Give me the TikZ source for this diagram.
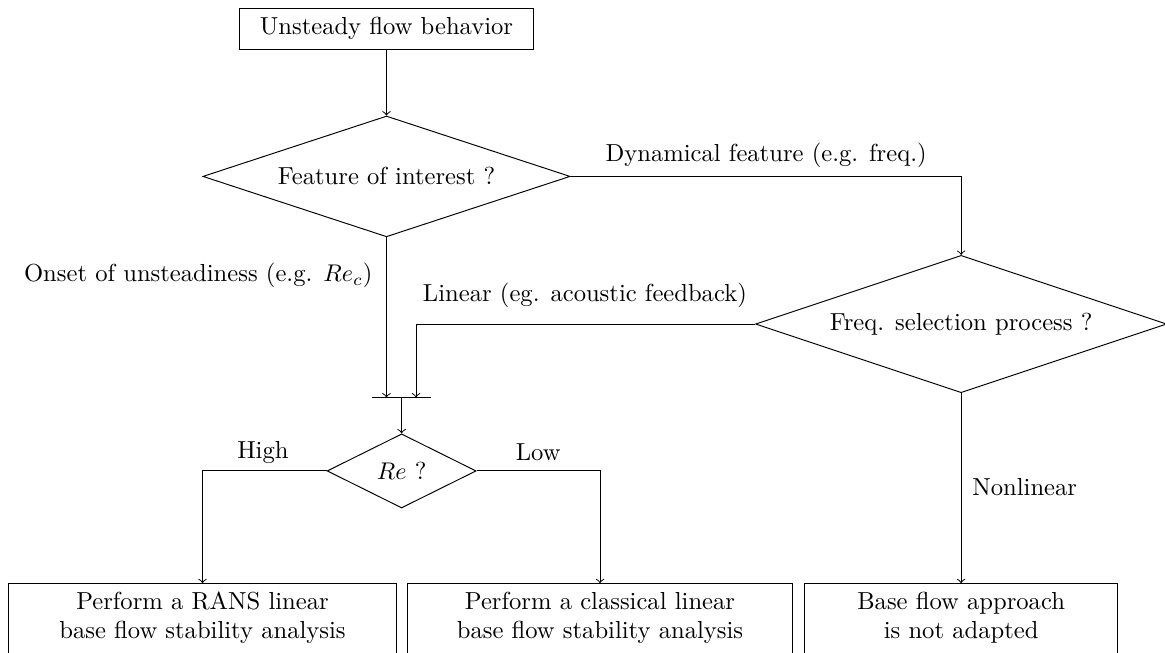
\documentclass[tikz,border=0pt]{standalone}
\usetikzlibrary{shapes.geometric}
\begin{document}
\begin{tikzpicture}
[font=\fontsize{10.2}{12.2}\selectfont,
 decision/.style={diamond, draw, inner sep=1pt},
 block/.style={rectangle, draw, align=center}]

\useasboundingbox (0,0) rectangle (16.97,9.50);

\node [block, minimum width=4.27cm, minimum height=0.6cm] (unsteady) at (5.63,9.08) {Unsteady flow behavior};
\node [decision, aspect=3, minimum width=5.35cm, minimum height=1.76cm] (feature) at (5.63,6.93) {Feature of interest ?};
\node [decision, aspect=3, minimum width=5.99cm, minimum height=2cm] (freq) at (14,4.78) {Freq. selection process ?};
\node [decision, aspect=2, minimum width=2.17cm, minimum height=1.08cm] (re) at (5.85,2.64) {$Re$ ?};

% results
\node [block, anchor=north, minimum width=5.64cm, text depth=17pt] (rans) at (2.95,1.005) {Perform a RANS linear\\base flow stability analysis};
\node [block, anchor=north, minimum width=5.62cm, text depth=17pt] (classic) at (8.74,1.005) {Perform a classical linear\\base flow stability analysis};
\node [block, anchor=north, minimum width=4.56cm, text depth=17pt] (notadapted) at (14,1.005) {Base flow approach\\is not adapted};

% junction
\coordinate (barl) at (5.42,3.71);
\coordinate (barr) at (6.28,3.71);
\coordinate (jl) at (5.63,3.71);
\coordinate (jm) at (5.85,3.71);
\coordinate (jr) at (6.06,3.71);
\draw (barl) -- (barr);

\draw [->] (unsteady) -- (feature);
\draw [->] (feature.east) -| (freq.north);
\draw [->] (feature.south) -- (jl);
\draw [->] (freq.west) -| (jr);
\draw [->] (jm) -- (re.north);
\draw [->] (re.west) -| (rans.north);
\draw [->] (re.east) -| (classic.north);
\draw [->] (freq.south) -- (notadapted.north);

% labels
\node (dynlabel) at (11.16,7.24) {Dynamical feature (e.g. freq.)};
\node [anchor=east] (onsetlabel) at (5.55,5.49) {Onset of unsteadiness (e.g. $Re_c$)};
\node (linlabel) at (8.52,5.20) {Linear (eg. acoustic feedback)};
\node [anchor=west] (nonlinlabel) at (14.04,2.40) {Nonlinear};
\node (highlabel) at (3.83,2.91) {High};
\node (lowlabel) at (7.84,2.91) {Low};
\end{tikzpicture}
\end{document}
